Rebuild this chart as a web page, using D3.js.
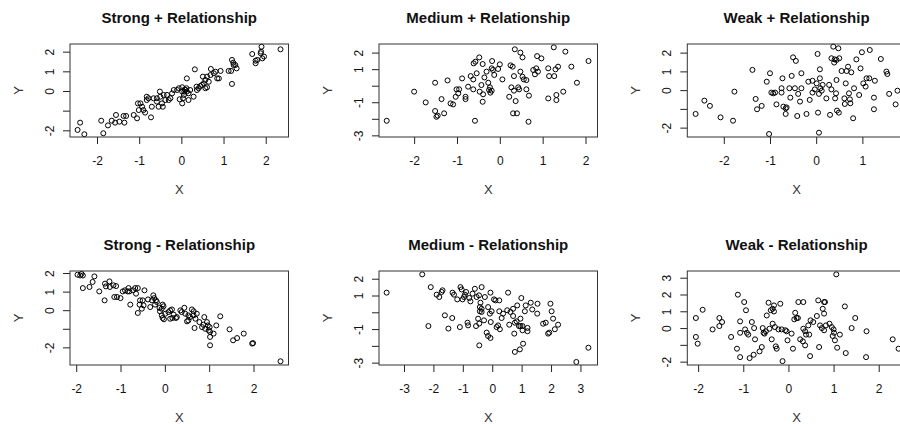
<!DOCTYPE html>
<html><head><meta charset="utf-8">
<script src="https://cdn.jsdelivr.net/npm/d3@7"></script>
<style>
html,body{margin:0;padding:0;background:#fff;}
svg{display:block;font-family:"Liberation Sans",Arial,sans-serif;}
</style></head>
<body>
<svg id="chart" width="900" height="424"></svg>
<script>
// ---- data ----
const titles = ["Strong + Relationship","Medium + Relationship","Weak + Relationship",
                "Strong - Relationship","Medium - Relationship","Weak - Relationship"];

const strongPos = [[-2.40,-1.61],[-2.46,-1.98],[-2.30,-2.20],[-1.90,-1.51],[-1.85,-2.15],[-1.74,-1.75],[-1.65,-1.51],[-1.55,-1.22],[-1.57,-1.61],[-1.47,-1.56],
[-1.37,-1.27],[-1.31,-1.27],[-1.35,-1.61],[-1.13,-1.22],[-1.05,-1.39],[-1.03,-0.63],[-0.97,-0.63],[-1.01,-0.97],[-0.93,-0.80],[-0.90,-0.97],
[-0.86,-1.10],[-0.82,-0.29],[-0.82,-0.46],[-0.72,-1.34],[-0.70,-0.80],[-0.78,-0.37],[-0.66,-0.37],[-0.58,-0.37],[-0.51,-0.03],[-0.50,-0.29],
[-0.42,-0.20],[-0.38,-0.46],[-0.46,-0.63],[-0.58,-0.54],[-0.54,-0.80],[-0.44,-0.80],[-0.34,-0.20],[-0.30,-0.46],[-0.26,-0.37],[-0.22,-0.12],
[-0.18,0.05],[-0.10,0.05],[-0.06,0.14],[-0.04,-0.42],[0.02,-0.63],[0.04,-0.37],[0.06,-0.20],[0.07,-0.03],[0.10,0.05],[0.12,0.14],
[0.13,-0.03],[0.17,-0.12],[0.21,0.05],[0.17,-0.46],[0.13,0.64],[0.29,-0.29],[0.32,1.10],[0.36,0.22],[0.37,0.05],[0.41,0.14],
[0.45,0.25],[0.49,0.31],[0.53,0.39],[0.57,0.14],[0.61,0.19],[0.51,0.73],[0.57,0.56],[0.61,0.73],[0.65,0.47],[0.69,0.81],
[0.70,1.12],[0.77,0.90],[0.81,0.98],[0.85,0.64],[0.89,0.64],[0.93,1.02],[1.12,1.02],[1.18,1.02],[1.20,1.58],[1.23,1.44],
[1.24,1.32],[1.28,1.32],[1.31,1.15],[1.20,0.36],[1.68,1.88],[1.76,1.54],[1.76,1.41],[1.80,1.58],[1.88,1.92],[1.90,2.25],
[1.92,1.66],[1.96,1.75],[1.89,2.00],[2.35,2.12],[0.02,-0.03],[0.08,0.08],[0.02,0.19]];

const mediumPos = [[-2.64,-2.12],[-2.00,-0.36],[-1.73,-1.01],[-1.51,0.18],[-1.51,-1.53],[-1.48,-1.88],[-1.45,-1.81],[-1.36,-0.81],[-1.30,-1.67],[-1.22,0.32],
[-1.15,-1.07],[-1.09,-1.13],[-1.03,-0.67],[-1.01,-0.22],[-0.95,-0.22],[-0.97,-0.46],[-0.88,0.44],[-0.80,-0.67],[-0.80,-0.81],[-0.74,-0.06],
[-0.68,0.58],[-0.62,-0.22],[-0.62,0.38],[-0.61,1.35],[-0.57,1.45],[-0.58,-2.12],[-0.54,0.75],[-0.48,1.71],[-0.47,-0.36],[-0.43,0.04],
[-0.40,1.31],[-0.40,-0.97],[-0.39,-0.52],[-0.36,0.50],[-0.31,0.85],[-0.27,0.18],[-0.25,-0.26],[-0.22,-0.42],[-0.19,1.05],[-0.18,1.49],
[-0.16,0.95],[-0.13,0.65],[-0.04,1.01],[0.00,1.29],[0.06,0.38],[0.22,-0.67],[0.25,1.23],[0.30,1.15],[0.27,-0.10],[0.33,0.58],
[0.35,2.20],[0.33,-0.30],[0.37,-0.93],[0.31,-1.67],[0.40,-1.67],[0.43,-0.10],[0.45,-0.22],[0.48,2.00],[0.48,0.85],[0.53,1.71],
[0.53,0.54],[0.56,0.38],[0.62,0.34],[0.62,-0.22],[0.67,-2.18],[0.68,-0.60],[0.78,0.95],[0.82,0.69],[0.85,1.05],[0.87,1.79],
[0.89,0.85],[0.97,1.65],[1.13,1.05],[1.13,-0.77],[1.15,0.58],[1.26,2.32],[1.27,0.58],[1.30,0.99],[1.32,-0.56],[1.32,-0.87],
[1.36,1.15],[1.48,-0.36],[1.53,2.06],[1.67,1.15],[1.80,0.18],[2.07,1.49],[-0.19,-0.30],[-0.23,-0.10]];

const weakPos = [[-2.61,-1.27],[-2.42,-0.56],[-2.30,-0.84],[-2.07,-1.45],[-1.80,-1.63],[-1.77,-0.08],[-1.38,1.08],[-1.31,-0.47],[-1.28,-1.02],[-1.18,-0.84],
[-1.07,0.45],[-1.00,0.90],[-1.02,-2.34],[-0.97,-0.13],[-0.93,-0.17],[-0.89,-0.13],[-0.86,-0.76],[-0.75,-0.13],[-0.73,0.63],[-0.75,0.10],
[-0.71,-0.88],[-0.66,-0.97],[-0.64,-0.92],[-0.66,-1.27],[-0.58,0.10],[-0.56,-0.40],[-0.53,0.76],[-0.50,1.75],[-0.44,1.56],[-0.46,0.10],
[-0.39,-0.20],[-0.41,-1.38],[-0.35,-0.61],[-0.32,0.10],[-0.32,0.90],[-0.21,-1.27],[-0.17,0.45],[-0.14,-0.52],[-0.08,0.50],[-0.08,-0.13],
[-0.03,0.04],[0.01,0.36],[0.03,1.93],[0.04,-1.20],[0.06,-0.20],[0.06,-2.27],[0.08,1.11],[0.08,0.63],[0.09,0.10],[0.12,-0.03],
[0.14,0.28],[0.22,-0.44],[0.28,0.28],[0.30,-1.32],[0.33,0.04],[0.33,1.70],[0.37,2.32],[0.39,1.47],[0.40,1.64],[0.44,1.61],
[0.41,-0.44],[0.43,-0.17],[0.44,0.54],[0.45,-1.09],[0.49,-1.20],[0.48,2.23],[0.50,1.70],[0.55,1.02],[0.61,-0.44],[0.62,-0.74],
[0.64,0.36],[0.66,1.02],[0.69,1.25],[0.71,-0.17],[0.73,-0.49],[0.74,-0.70],[0.76,0.95],[0.80,-1.50],[0.82,0.10],[0.87,1.64],
[0.93,-0.26],[0.96,1.16],[0.99,2.02],[1.02,0.36],[1.07,0.19],[1.09,0.63],[1.15,0.63],[1.16,2.14],[1.25,-0.40],[1.25,-1.02],
[1.27,0.50],[1.40,1.66],[1.52,0.99],[1.54,0.86],[1.58,-0.20],[1.72,-0.76],[1.76,-0.03]];

const strongNeg = [[-1.97,1.91],[-1.91,1.87],[-1.88,1.96],[-1.85,1.87],[-1.85,1.19],[-1.70,1.25],[-1.63,1.52],[-1.59,1.82],[-1.48,1.01],[-1.36,0.53],
[-1.35,1.43],[-1.33,1.28],[-1.25,1.55],[-1.24,1.25],[-1.16,1.34],[-1.14,0.71],[-1.08,0.71],[-1.10,1.30],[-1.00,0.65],[-0.95,1.01],
[-0.90,1.07],[-0.84,1.01],[-0.82,1.19],[-0.80,1.01],[-0.78,0.30],[-0.72,1.07],[-0.67,1.19],[-0.61,1.19],[-0.65,0.89],[-0.61,-0.15],
[-0.57,0.30],[-0.56,0.53],[-0.50,0.53],[-0.52,0.08],[-0.48,0.26],[-0.46,1.07],[-0.38,0.58],[-0.33,0.17],[-0.29,0.53],[-0.26,0.80],
[-0.24,0.65],[-0.20,0.53],[-0.22,0.30],[-0.18,0.44],[-0.12,0.12],[-0.11,-0.06],[-0.07,0.08],[-0.05,0.30],[-0.03,0.21],[-0.07,-0.28],
[-0.05,-0.42],[-0.02,-0.49],[0.01,-0.19],[0.08,-0.10],[0.12,-0.01],[0.16,0.04],[0.12,-0.46],[0.17,-0.42],[0.20,-0.24],[0.25,-0.42],
[0.27,-0.37],[0.35,-0.01],[0.38,-0.10],[0.44,0.13],[0.46,-0.19],[0.50,-0.60],[0.53,-0.55],[0.57,-0.37],[0.53,-0.28],[0.61,0.04],
[0.65,-0.06],[0.65,-0.28],[0.69,-0.46],[0.67,-0.96],[0.72,-0.19],[0.78,-0.64],[0.84,-0.91],[0.87,-0.78],[0.89,-0.37],[0.91,-1.00],
[0.95,-0.64],[0.97,-0.82],[0.99,-1.09],[1.01,-0.91],[1.02,-1.17],[1.02,-1.44],[1.02,-1.89],[1.10,-1.26],[1.16,-0.82],[1.25,-0.33],
[1.46,-1.03],[1.54,-1.62],[1.63,-1.50],[1.78,-1.26],[1.97,-1.80],[1.99,-1.77],[2.61,-2.75]];

const mediumNeg = [[-3.59,1.17],[-2.38,2.26],[-2.17,-0.82],[-2.09,1.50],[-1.89,1.05],[-1.80,0.91],[-1.72,1.21],[-1.69,1.31],[-1.61,-0.18],[-1.49,-0.97],
[-1.36,-0.34],[-1.35,1.17],[-1.30,1.05],[-1.19,0.77],[-1.10,-0.88],[-1.08,1.50],[-1.04,1.36],[-1.01,0.77],[-0.96,0.91],[-0.93,1.05],
[-0.89,1.21],[-0.84,-0.62],[-0.82,-0.78],[-0.78,0.85],[-0.74,0.65],[-0.67,1.11],[-0.59,1.40],[-0.55,-0.82],[-0.53,0.91],[-0.45,1.01],
[-0.44,-1.97],[-0.48,-0.38],[-0.44,-0.67],[-0.42,0.31],[-0.42,0.06],[-0.40,0.57],[-0.36,0.21],[-0.36,0.02],[-0.36,1.50],[-0.28,-0.48],
[-0.25,0.91],[-0.19,-1.21],[-0.14,-1.41],[-0.06,-1.53],[-0.14,0.31],[-0.08,-0.08],[-0.06,1.17],[-0.05,-0.58],[-0.02,0.06],[0.06,0.77],
[0.11,0.71],[0.15,-0.88],[0.20,-0.78],[0.24,0.71],[0.24,0.06],[0.26,-1.01],[0.32,-0.34],[0.37,-0.08],[0.51,0.12],[0.54,1.17],
[0.58,-0.74],[0.62,0.02],[0.71,-0.22],[0.71,0.21],[0.75,-1.27],[0.77,-0.62],[0.77,-2.36],[0.83,-0.54],[0.85,0.41],[0.91,-0.82],
[0.96,-0.82],[1.03,-0.82],[0.94,-2.21],[0.96,-0.38],[0.99,0.85],[1.03,-1.07],[1.05,-1.87],[1.11,0.06],[1.14,0.41],[1.20,-0.93],
[1.20,-1.13],[1.31,0.57],[1.36,0.17],[1.53,-0.08],[1.54,0.51],[1.73,-0.68],[1.82,-0.62],[1.90,-1.27],[1.94,-1.21],[1.98,0.51],
[2.02,0.06],[2.07,-0.38],[2.13,-1.01],[2.24,-0.74],[2.86,-2.96],[3.27,-2.11]];

const weakNeg = [[-2.05,0.60],[-2.05,-0.53],[-2.01,-0.93],[-1.90,1.09],[-1.68,-0.08],[-1.53,0.60],[-1.53,0.12],[-1.47,0.36],[-1.27,-0.53],[-1.14,-1.23],
[-1.12,1.99],[-1.07,0.40],[-1.07,-0.28],[-1.07,-1.73],[-0.98,1.55],[-0.96,-0.08],[-0.94,1.06],[-0.92,-0.28],[-0.89,-0.39],[-0.86,-1.79],
[-0.81,0.36],[-0.77,-1.59],[-0.76,0.00],[-0.74,-0.67],[-0.64,-1.39],[-0.59,-1.13],[-0.57,0.00],[-0.55,-0.28],[-0.53,-0.33],[-0.50,-0.19],
[-0.48,0.75],[-0.44,1.51],[-0.42,-0.04],[-0.39,1.06],[-0.35,1.15],[-0.32,0.99],[-0.37,-0.67],[-0.35,0.26],[-0.32,1.35],[-0.30,0.06],
[-0.28,-1.09],[-0.26,-1.23],[-0.22,-0.08],[-0.15,-0.08],[-0.18,1.45],[-0.13,-1.97],[-0.07,-0.13],[-0.04,-0.19],[-0.02,-0.73],[0.07,-0.33],
[0.10,-1.23],[0.13,0.52],[0.15,0.91],[0.18,0.60],[0.21,0.60],[0.22,1.55],[0.33,1.55],[0.26,-0.67],[0.32,-0.79],[0.33,-0.04],
[0.37,-0.19],[0.39,-0.39],[0.37,-1.03],[0.44,0.16],[0.46,-0.39],[0.48,-1.67],[0.49,0.46],[0.55,0.36],[0.63,0.72],[0.66,1.65],
[0.68,-1.13],[0.70,0.16],[0.74,0.00],[0.76,1.15],[0.79,1.55],[0.81,1.55],[0.79,0.86],[0.79,-0.13],[0.83,0.16],[0.91,0.26],
[0.96,0.06],[1.00,-0.08],[1.01,-0.28],[0.98,-0.47],[1.03,-0.73],[1.06,3.20],[1.08,-1.17],[1.14,-0.39],[1.25,1.29],[1.27,-1.49],
[1.40,0.00],[1.48,0.60],[1.73,-0.19],[1.72,-1.73],[2.31,-0.67],[2.44,-1.23]];

const seriesData = [strongPos, mediumPos, weakPos, strongNeg, mediumNeg, weakNeg];

// axis ranges (plot window in data units) and ticks
const xLimits = [[-2.64,2.54],[-2.82,2.28],[-2.79,1.94],[-2.14,2.79],[-3.85,3.58],[-2.24,2.60]];
const yLimits = [[-2.34,2.39],[-3.10,2.52],[-2.50,2.46],[-2.95,2.11],[-3.14,2.46],[-2.20,3.40]];
const xTicks = [[-2,-1,0,1,2],[-2,-1,0,1,2],[-2,-1,0,1],[-2,-1,0,1,2],[-3,-2,-1,0,1,2,3],[-2,-1,0,1,2]];
const yTicks = [[-2,-1,0,1,2],[-3,-2,-1,0,1,2],[-2,-1,0,1,2],[-2,-1,0,1,2],[-3,-2,-1,0,1,2],[-2,-1,0,1,2,3]];
const yTickLabelsShown = [[-2,0,1,2],[-3,-1,1,2],[-2,0,1,2],[-2,0,1,2],[-3,-1,1,2],[-2,0,1,2,3]];
const xLabel = "X", yLabel = "Y";

// ---- layout ----
const colLeft = [70, 379, 687.3];
const boxW = 218.5;
const rowTop = [44, 271];
const rowBottom = [137, 365];

const svg = d3.select("#chart");

seriesData.forEach((data, i) => {
  const col = i % 3, row = Math.floor(i / 3);
  const L = colLeft[col], R = L + boxW, T = rowTop[row], B = rowBottom[row];
  const x = d3.scaleLinear().domain(xLimits[i]).range([L, R]);
  const y = d3.scaleLinear().domain(yLimits[i]).range([B, T]);
  const g = svg.append("g");

  // points
  g.append("g").selectAll("circle").data(data).join("circle")
    .attr("cx", d => x(d[0])).attr("cy", d => y(d[1])).attr("r", 2.5)
    .attr("fill", "none").attr("stroke", "#000").attr("stroke-width", 1);

  // x axis
  const xa = g.append("g").attr("transform", `translate(0,${B})`)
    .call(d3.axisBottom(x).tickValues(xTicks[i]).tickSize(7).tickSizeOuter(0)
      .tickPadding(12.5).tickFormat(d => String(d)));
  xa.select(".domain").remove();
  xa.selectAll("line").attr("stroke", "#222");
  xa.selectAll("text").attr("font-size", 12).attr("fill", "#111")
    .attr("font-family", '"Liberation Sans",Arial,sans-serif');

  // y axis
  const shown = yTickLabelsShown[i];
  const ya = g.append("g").attr("transform", `translate(${L},0)`)
    .call(d3.axisLeft(y).tickValues(yTicks[i]).tickSize(7).tickSizeOuter(0)
      .tickFormat(d => shown.includes(d) ? String(d) : ""));
  ya.select(".domain").remove();
  ya.selectAll("line").attr("stroke", "#222");
  ya.selectAll("text").attr("x", null).attr("dy", null)
    .attr("text-anchor", "middle")
    .attr("transform", "translate(-16.5,0) rotate(-90)")
    .attr("font-size", 12).attr("fill", "#111")
    .attr("font-family", '"Liberation Sans",Arial,sans-serif');

  // box
  g.append("rect").attr("x", L).attr("y", T).attr("width", R - L).attr("height", B - T)
    .attr("fill", "none").attr("stroke", "#333").attr("stroke-width", 1);

  // titles
  g.append("text").attr("x", (L + R) / 2).attr("y", T - 21)
    .attr("text-anchor", "middle").attr("font-size", 15).attr("font-weight", "bold")
    .attr("fill", "#111").text(titles[i]);
  g.append("text").attr("x", (L + R) / 2).attr("y", B + 57)
    .attr("text-anchor", "middle").attr("font-size", 13).attr("fill", "#333").text(xLabel);
  g.append("text").attr("transform", `translate(${L - 47.5},${(T + B) / 2}) rotate(-90)`)
    .attr("text-anchor", "middle").attr("font-size", 13).attr("fill", "#333").text(yLabel);
});
</script>
</body></html>
